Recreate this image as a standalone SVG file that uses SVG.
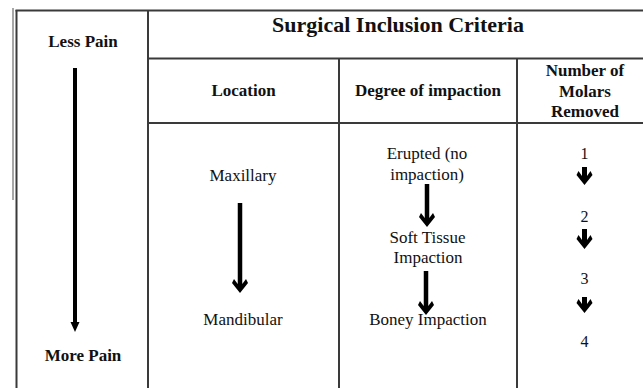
<svg xmlns="http://www.w3.org/2000/svg" width="643" height="388" viewBox="0 0 643 388">
<style>
text{fill:#111;text-anchor:middle}
.b{font-weight:bold;font-size:17px}
.t{font-weight:bold;font-size:22px}
.r{font-size:17px}
.n{font-size:16px}
.ln{stroke:#3a3a3a;stroke-width:2;fill:none}
.arr{fill:#000;stroke:none}
</style>
<rect width="643" height="388" fill="#fff"/>
<g id="frame">
<line x1="13" y1="8" x2="13" y2="200" stroke="#8a8a8a" stroke-width="1.5"/>
<line class="ln" x1="15.5" y1="10.5" x2="643" y2="10.5"/>
<line class="ln" x1="16.5" y1="10" x2="16.5" y2="388"/>
<line class="ln" x1="148" y1="10" x2="148" y2="388"/>
<line class="ln" x1="148" y1="58.5" x2="643" y2="58.5"/>
<line class="ln" x1="148" y1="123" x2="643" y2="123"/>
<line class="ln" x1="339" y1="58.5" x2="339" y2="388"/>
<line class="ln" x1="517" y1="58.5" x2="517" y2="388"/>
</g>
<g font-family="Liberation Serif, DejaVu Serif, serif">
<g id="title"><text class="t" x="398" y="32">Surgical Inclusion Criteria</text></g>
<g id="less-pain"><text class="b" x="83" y="47">Less Pain</text></g>
<g id="more-pain"><text class="b" x="83" y="361">More Pain</text></g>
<g id="hdr-location"><text class="b" x="243.5" y="96">Location</text></g>
<g id="hdr-degree"><text class="b" x="428" y="96">Degree of impaction</text></g>
<g id="hdr-number"><text class="b" x="585" y="76">Number of</text><text class="b" x="585" y="97">Molars</text><text class="b" x="585" y="117">Removed</text></g>
<g id="maxillary"><text class="r" x="243" y="181">Maxillary</text></g>
<g id="mandibular"><text class="r" x="243" y="325">Mandibular</text></g>
<g id="erupted"><text class="r" x="427" y="159">Erupted (no</text><text class="r" x="427" y="180">impaction)</text></g>
<g id="soft-tissue"><text class="r" x="427.5" y="243">Soft Tissue</text><text class="r" x="428" y="263">Impaction</text></g>
<g id="boney"><text class="r" x="428" y="325">Boney Impaction</text></g>
<g id="n1"><text class="n" x="584.5" y="159">1</text></g>
<g id="n2"><text class="n" x="584.5" y="222">2</text></g>
<g id="n3"><text class="n" x="584.5" y="284">3</text></g>
<g id="n4"><text class="n" x="584.5" y="347">4</text></g>
</g>
<g id="connectors">
<path class="arr" d="M73,68 H77 V322 H79.5 L75,332 L70.5,322 H73 Z"/>
<polygon class="arr" points="237.75,203 242.25,203 242.25,284 246,279 248,283 240,293 232,283 234,279 237.75,284"/>
<polygon class="arr" points="424.75,184 429.25,184 429.25,218 433,213 435,217 427,227 419,217 421,213 424.75,218"/>
<polygon class="arr" points="423.75,271 428.25,271 428.25,306 432,301 434,305 426,315 418,305 420,301 423.75,306"/>
<polygon class="arr" points="582,167 587,167 587,176 590.5,171 592.5,175 584.5,185 576.5,175 578.5,171 582,176"/>
<polygon class="arr" points="582,229 587,229 587,240 590.5,235 592.5,239 584.5,249 576.5,239 578.5,235 582,240"/>
<polygon class="arr" points="582,297 587,297 587,304 590.5,299 592.5,303 584.5,313 576.5,303 578.5,299 582,304"/>
</g>
</svg>
